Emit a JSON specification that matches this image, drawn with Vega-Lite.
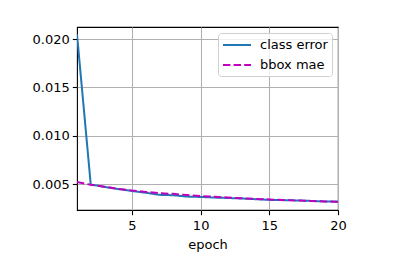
{
  "$schema": "https://vega.github.io/schema/vega-lite/v6.json",
  "width": 261,
  "height": 183,
  "autosize": {"type": "none"},
  "padding": {"left": 77, "top": 27, "right": 58, "bottom": 62},
  "background": "white",
  "config": {
    "font": "DejaVu Sans",
    "view": {"stroke": "black", "strokeWidth": 1.1},
    "axis": {
      "labelFont": "DejaVu Sans",
      "labelFontSize": 13,
      "labelColor": "black",
      "labelFlush": false,
      "labelOverlap": false,
      "titleFont": "DejaVu Sans",
      "titleFontSize": 13,
      "titleFontWeight": "normal",
      "titleColor": "black",
      "tickColor": "black",
      "tickSize": 4.7,
      "tickWidth": 1.1,
      "domain": false,
      "gridColor": "#b0b0b0",
      "gridWidth": 1.07
    }
  },
  "data": {
    "values": [
      {"epoch": 1, "series": "class error", "value": 0.0205},
      {"epoch": 2, "series": "class error", "value": 0.00495},
      {"epoch": 3, "series": "class error", "value": 0.0047},
      {"epoch": 4, "series": "class error", "value": 0.00448},
      {"epoch": 5, "series": "class error", "value": 0.00428},
      {"epoch": 6, "series": "class error", "value": 0.0041},
      {"epoch": 7, "series": "class error", "value": 0.00388},
      {"epoch": 8, "series": "class error", "value": 0.00384},
      {"epoch": 9, "series": "class error", "value": 0.0037},
      {"epoch": 10, "series": "class error", "value": 0.00366},
      {"epoch": 11, "series": "class error", "value": 0.0036},
      {"epoch": 12, "series": "class error", "value": 0.00355},
      {"epoch": 13, "series": "class error", "value": 0.0035},
      {"epoch": 14, "series": "class error", "value": 0.00343},
      {"epoch": 15, "series": "class error", "value": 0.00336},
      {"epoch": 16, "series": "class error", "value": 0.00333},
      {"epoch": 17, "series": "class error", "value": 0.0033},
      {"epoch": 18, "series": "class error", "value": 0.00325},
      {"epoch": 19, "series": "class error", "value": 0.0032},
      {"epoch": 20, "series": "class error", "value": 0.00318},
      {"epoch": 1, "series": "bbox mae", "value": 0.0052},
      {"epoch": 2, "series": "bbox mae", "value": 0.00492},
      {"epoch": 3, "series": "bbox mae", "value": 0.00472},
      {"epoch": 4, "series": "bbox mae", "value": 0.0045},
      {"epoch": 5, "series": "bbox mae", "value": 0.00432},
      {"epoch": 6, "series": "bbox mae", "value": 0.00418},
      {"epoch": 7, "series": "bbox mae", "value": 0.00405},
      {"epoch": 8, "series": "bbox mae", "value": 0.00398},
      {"epoch": 9, "series": "bbox mae", "value": 0.00385},
      {"epoch": 10, "series": "bbox mae", "value": 0.00375},
      {"epoch": 11, "series": "bbox mae", "value": 0.00368},
      {"epoch": 12, "series": "bbox mae", "value": 0.0036},
      {"epoch": 13, "series": "bbox mae", "value": 0.00352},
      {"epoch": 14, "series": "bbox mae", "value": 0.00346},
      {"epoch": 15, "series": "bbox mae", "value": 0.0034},
      {"epoch": 16, "series": "bbox mae", "value": 0.00335},
      {"epoch": 17, "series": "bbox mae", "value": 0.0033},
      {"epoch": 18, "series": "bbox mae", "value": 0.00325},
      {"epoch": 19, "series": "bbox mae", "value": 0.0032},
      {"epoch": 20, "series": "bbox mae", "value": 0.00315}
    ]
  },
  "mark": {"type": "line", "strokeWidth": 2, "clip": true},
  "encoding": {
    "x": {
      "field": "epoch",
      "type": "quantitative",
      "scale": {"domain": [1, 20], "nice": false, "zero": false},
      "axis": {"values": [5, 10, 15, 20], "title": "epoch", "titlePadding": 6, "labelPadding": 5}
    },
    "y": {
      "field": "value",
      "type": "quantitative",
      "scale": {"domain": [0.00231, 0.02125], "nice": false, "zero": false},
      "axis": {"values": [0.005, 0.01, 0.015, 0.02], "format": ".3f", "title": null, "labelPadding": 3}
    },
    "color": {
      "field": "series",
      "type": "nominal",
      "scale": {"domain": ["class error", "bbox mae"], "range": ["#1f77b4", "#bf00bf"]},
      "legend": {
        "title": null,
        "orient": "top-right",
        "offset": 6,
        "labelFont": "DejaVu Sans",
        "labelFontSize": 13,
        "labelColor": "black",
        "symbolType": "M-1,0H3",
        "symbolSize": 196,
        "symbolStrokeWidth": 2,
        "fillColor": "rgba(255,255,255,0.8)",
        "strokeColor": "#d0d0d0",
        "cornerRadius": 3,
        "padding": 4,
        "rowPadding": 5,
        "labelOffset": 22
      }
    },
    "strokeDash": {
      "field": "series",
      "type": "nominal",
      "scale": {"domain": ["class error", "bbox mae"], "range": [[1, 0], [7.4, 3.2]]},
      "legend": null
    }
  }
}
